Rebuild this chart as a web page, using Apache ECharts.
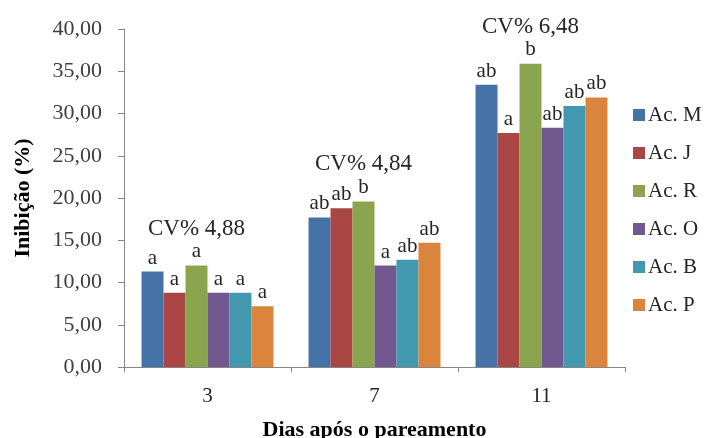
<!DOCTYPE html>
<html><head><meta charset="utf-8">
<script src="https://cdn.jsdelivr.net/npm/echarts@6/dist/echarts.min.js"></script>
<style>html,body{margin:0;padding:0;background:#fff}#c{width:710px;height:438px}</style>
</head><body><div id="c"></div>
<script>
const categories = ['3', '7', '11'];
const seriesNames = ['Ac. M', 'Ac. J', 'Ac. R', 'Ac. O', 'Ac. B', 'Ac. P'];
const acM = [11.3, 17.7, 33.4];
const acJ = [8.8, 18.8, 27.7];
const acR = [12.0, 19.6, 35.9];
const acO = [8.8, 12.0, 28.3];
const acB = [8.8, 12.7, 30.9];
const acP = [7.2, 14.7, 31.9];
const lettersM = ['a', 'ab', 'ab'];
const lettersJ = ['a', 'ab', 'a'];
const lettersR = ['a', 'b', 'b'];
const lettersO = ['a', 'a', 'ab'];
const lettersB = ['a', 'ab', 'ab'];
const lettersP = ['a', 'ab', 'ab'];
const cvLabels = ['CV% 4,88', 'CV% 4,84', 'CV% 6,48'];
const yTicks = [0, 5, 10, 15, 20, 25, 30, 35, 40];

const values = [acM, acJ, acR, acO, acB, acP];
const letters = [lettersM, lettersJ, lettersR, lettersO, lettersB, lettersP];
const colors = ['#4572A7', '#AA4643', '#89A54E', '#71588F', '#4198AF', '#DB843D'];
const serif = '"Liberation Serif", "DejaVu Serif", serif';

const chart = echarts.init(document.getElementById('c'), null, {renderer: 'canvas'});
const series = seriesNames.map((name, i) => ({
  name: name,
  type: 'bar',
  data: values[i],
  barGap: '0%',
  barCategoryGap: '21%',
  itemStyle: {color: colors[i]},
  label: {
    show: true,
    position: 'top',
    distance: 3,
    fontFamily: serif,
    fontSize: 21,
    color: '#262626',
    formatter: i === 2
      ? (p) => '{cv|' + cvLabels[p.dataIndex] + '}\n{l|' + letters[i][p.dataIndex] + '}'
      : (p) => letters[i][p.dataIndex],
    rich: i === 2 ? {
      cv: {fontFamily: serif, fontSize: 23, color: '#262626', lineHeight: 24},
      l: {fontFamily: serif, fontSize: 21, color: '#262626', lineHeight: 22}
    } : undefined
  }
}));

chart.setOption({
  animation: false,
  grid: {left: 124, right: 85, top: 29, bottom: 71, containLabel: false, outerBoundsMode: 'none'},
  legend: {
    orient: 'vertical',
    left: 633, top: 104, padding: 0,
    itemWidth: 12, itemHeight: 12, itemGap: 16,
    icon: 'rect',
    textStyle: {fontFamily: serif, fontSize: 21, lineHeight: 22, color: '#262626', padding: [0, 0, 0, -2]},
    data: seriesNames
  },
  xAxis: {
    type: 'category',
    data: categories,
    name: 'Dias após o pareamento',
    nameLocation: 'middle',
    nameGap: 52,
    nameTextStyle: {fontFamily: serif, fontSize: 22, fontWeight: 'bold', color: '#000'},
    axisLine: {lineStyle: {color: '#868686'}},
    axisTick: {show: true, length: 5, lineStyle: {color: '#868686'}},
    axisLabel: {fontFamily: serif, fontSize: 21, color: '#262626', margin: 19}
  },
  yAxis: {
    type: 'value',
    min: yTicks[0], max: yTicks[yTicks.length - 1], interval: yTicks[1] - yTicks[0],
    name: 'Inibição (%)',
    nameLocation: 'middle',
    nameGap: 90,
    nameTextStyle: {fontFamily: serif, fontSize: 22, fontWeight: 'bold', color: '#000'},
    splitLine: {show: false},
    axisLine: {show: true, lineStyle: {color: '#868686'}},
    axisTick: {show: true, length: 6, lineStyle: {color: '#868686'}},
    axisLabel: {
      fontFamily: serif, fontSize: 22, color: '#404040', margin: 22,
      formatter: (v) => v.toFixed(2).replace('.', ',')
    }
  },
  series: series
});
</script></body></html>
